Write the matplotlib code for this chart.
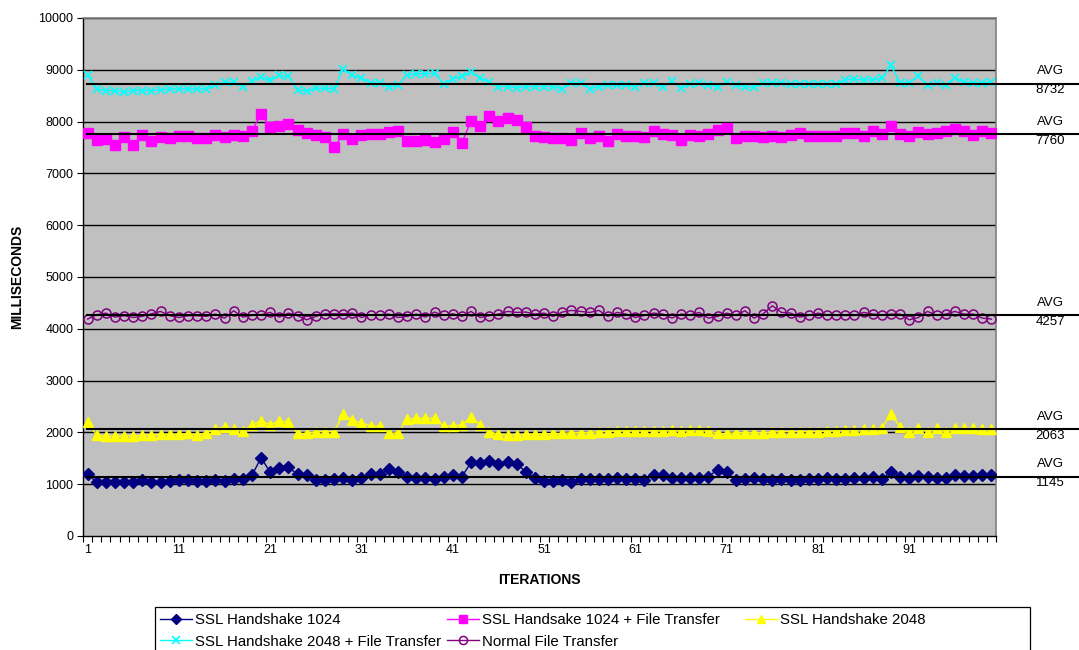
import numpy as np
import matplotlib
matplotlib.use("Agg")
import matplotlib.pyplot as plt
from matplotlib.transforms import blended_transform_factory
from matplotlib.patches import Rectangle

plt.rcParams['font.family'] = ['Liberation Sans', 'DejaVu Sans']

iterations = list(range(1, 101))

ssl_1024 = [1194, 1039, 1039, 1039, 1039, 1039, 1084, 1052, 1052, 1065,
            1077, 1077, 1065, 1071, 1084, 1071, 1097, 1097, 1168, 1510,
            1232, 1316, 1323, 1194, 1168, 1084, 1084, 1097, 1116, 1090,
            1116, 1194, 1194, 1300, 1239, 1148, 1129, 1129, 1110, 1148,
            1181, 1148, 1419, 1406, 1445, 1393, 1419, 1393, 1239, 1116,
            1071, 1058, 1077, 1052, 1097, 1097, 1097, 1097, 1116, 1110,
            1097, 1090, 1181, 1168, 1123, 1129, 1129, 1129, 1148, 1277,
            1226, 1084, 1097, 1129, 1103, 1090, 1097, 1090, 1090, 1097,
            1103, 1116, 1110, 1110, 1116, 1116, 1135, 1097, 1245, 1142,
            1129, 1155, 1142, 1123, 1129, 1168, 1161, 1161, 1187, 1168]

ssl_1024_ft = [7787, 7652, 7671, 7548, 7697, 7555, 7748, 7626, 7697, 7684,
               7716, 7723, 7690, 7690, 7748, 7697, 7742, 7716, 7813, 8155,
               7897, 7916, 7961, 7839, 7781, 7736, 7703, 7503, 7755, 7665,
               7742, 7761, 7761, 7806, 7826, 7632, 7632, 7645, 7613, 7665,
               7794, 7594, 8006, 7910, 8110, 8019, 8071, 8032, 7903, 7716,
               7703, 7690, 7684, 7652, 7774, 7690, 7729, 7632, 7761, 7729,
               7729, 7710, 7819, 7755, 7742, 7652, 7742, 7716, 7761, 7845,
               7877, 7684, 7729, 7716, 7710, 7716, 7697, 7748, 7774, 7729,
               7729, 7716, 7729, 7787, 7774, 7716, 7826, 7755, 7910, 7761,
               7729, 7800, 7755, 7781, 7813, 7852, 7826, 7735, 7813, 7781]

ssl_2048 = [2194, 1948, 1929, 1929, 1935, 1935, 1942, 1955, 1961, 1961,
            1961, 1980, 1955, 1994, 2058, 2110, 2058, 2032, 2142, 2226,
            2142, 2226, 2194, 1980, 1980, 2013, 2013, 2013, 2348, 2232,
            2187, 2123, 2123, 1980, 1994, 2252, 2271, 2271, 2271, 2123,
            2123, 2142, 2303, 2142, 2013, 1968, 1948, 1948, 1961, 1968,
            1968, 1980, 1980, 1994, 1994, 1994, 2013, 2013, 2032, 2026,
            2032, 2032, 2032, 2032, 2045, 2032, 2045, 2045, 2032, 1980,
            1980, 1994, 1994, 1994, 1994, 2006, 2013, 2013, 2013, 2013,
            2013, 2026, 2026, 2045, 2045, 2058, 2058, 2090, 2348, 2110,
            2000, 2090, 2013, 2077, 2013, 2077, 2077, 2077, 2058, 2058]

ssl_2048_ft = [8903, 8632, 8600, 8600, 8568, 8600, 8600, 8600, 8613, 8632,
               8632, 8632, 8632, 8632, 8697, 8761, 8761, 8677, 8781, 8858,
               8794, 8890, 8871, 8613, 8587, 8645, 8645, 8632, 9019, 8890,
               8845, 8748, 8748, 8665, 8697, 8903, 8923, 8923, 8936, 8729,
               8826, 8871, 8955, 8845, 8761, 8677, 8677, 8652, 8677, 8677,
               8677, 8677, 8632, 8748, 8748, 8632, 8677, 8697, 8697, 8697,
               8677, 8748, 8748, 8665, 8787, 8645, 8729, 8748, 8697, 8677,
               8761, 8697, 8677, 8665, 8748, 8748, 8748, 8735, 8735, 8735,
               8723, 8723, 8723, 8806, 8819, 8806, 8806, 8839, 9084, 8748,
               8748, 8877, 8697, 8748, 8697, 8845, 8761, 8748, 8748, 8761]

normal_ft = [4187, 4271, 4303, 4226, 4252, 4219, 4239, 4290, 4335, 4252,
             4219, 4252, 4252, 4239, 4284, 4206, 4348, 4226, 4258, 4271,
             4316, 4226, 4303, 4252, 4174, 4239, 4290, 4290, 4290, 4303,
             4219, 4271, 4271, 4284, 4219, 4239, 4284, 4226, 4323, 4258,
             4290, 4239, 4335, 4219, 4252, 4284, 4335, 4316, 4323, 4284,
             4303, 4239, 4323, 4355, 4335, 4316, 4355, 4239, 4316, 4284,
             4219, 4258, 4303, 4284, 4206, 4284, 4271, 4316, 4206, 4239,
             4303, 4258, 4348, 4206, 4290, 4445, 4316, 4303, 4226, 4258,
             4303, 4271, 4258, 4258, 4258, 4316, 4284, 4271, 4284, 4284,
             4174, 4219, 4335, 4258, 4284, 4335, 4284, 4284, 4206, 4187]

series_names = ["SSL Handshake 1024", "SSL Handsake 1024 + File Transfer",
                "SSL Handshake 2048", "SSL Handshake 2048 + File Transfer",
                "Normal File Transfer"]
avg_values = [8732, 7760, 4257, 2063, 1145]

x_tick_labels = [1, 11, 21, 31, 41, 51, 61, 71, 81, 91]
y_ticks = list(range(0, 10001, 1000))

W, H = 1079, 650
fig = plt.figure(figsize=(W / 100, H / 100), dpi=100)
L, R, T, B = 83, 996, 18, 536
ax = fig.add_axes([L / W, 1 - B / H, (R - L) / W, (B - T) / H])
ax.set_facecolor('#C0C0C0')

ax.set_xlim(0.5, 100.5)
ax.set_ylim(0, 10000)
ax.set_yticks(y_ticks)
ax.set_yticklabels([str(v) for v in y_ticks], fontsize=9)
for v in y_ticks[1:]:
    ax.axhline(v, color='black', lw=1.0, zorder=1)

ax.set_xticks(x_tick_labels)
ax.set_xticklabels([str(v) for v in x_tick_labels], fontsize=9)
ax.set_xticks(np.arange(0.5, 101, 1), minor=True)
ax.tick_params(axis='x', which='major', length=0, pad=6)
ax.tick_params(axis='x', which='minor', length=4, width=0.8, direction='out')
ax.tick_params(axis='y', which='major', length=4, width=0.8, direction='out', pad=3)

for s in ['top', 'right']:
    ax.spines[s].set_color('#808080')
    ax.spines[s].set_linewidth(1.2)
for s in ['left', 'bottom']:
    ax.spines[s].set_color('black')
    ax.spines[s].set_linewidth(1.0)

lw = 1.0
h1, = ax.plot(iterations, ssl_1024, color='#000080', marker='D', ms=6, lw=lw, zorder=5)
h2, = ax.plot(iterations, ssl_1024_ft, color='#FF00FF', marker='s', ms=6.5, lw=lw, zorder=5)
h3, = ax.plot(iterations, ssl_2048, color='#FFFF00', marker='^', ms=7, lw=lw, zorder=5)
h4, = ax.plot(iterations, ssl_2048_ft, color='#00FFFF', marker='x', ms=6, mew=1.2, lw=lw, zorder=5)
h5, = ax.plot(iterations, normal_ft, color='#800080', marker='o', ms=6.5, mfc='none', mew=1.1, lw=lw, zorder=5)

tr = blended_transform_factory(ax.transAxes, ax.transData)
x_end = (W - L) / (R - L)
x_lab = (1050 - L) / (R - L)
for v in avg_values:
    ax.plot([0.004, x_end], [v, v], color='black', lw=1.5, transform=tr, clip_on=False, zorder=6)
    ax.text(x_lab, v + 120, "AVG", transform=tr, ha='center', va='bottom', fontsize=9.5)
    ax.text(x_lab, v - 15, str(v), transform=tr, ha='center', va='top', fontsize=9.5)

ax.set_ylabel("MILLISECONDS", fontsize=10, fontweight='bold', labelpad=10)
ax.set_xlabel("ITERATIONS", fontsize=10, fontweight='bold', labelpad=12)

# Legend: three equal-width columns inside one frame
fig.add_artist(Rectangle((155 / W, 1 - 665 / H), (1030 - 155) / W, (665 - 607) / H,
                         transform=fig.transFigure, facecolor='white',
                         edgecolor='black', lw=0.9, zorder=0))
columns = [([h1, h4], [series_names[0], series_names[3]], 160),
           ([h2, h5], [series_names[1], series_names[4]], 447),
           ([h3], [series_names[2]], 745)]
for hs, labs, xpx in columns:
    lg = fig.legend(hs, labs, loc='upper left', bbox_to_anchor=(xpx / W, 1 - 613 / H),
                    fontsize=10.8, frameon=False, handlelength=2.1, handletextpad=0.25,
                    borderpad=0, borderaxespad=0, labelspacing=0.5, markerscale=0.9)

fig.savefig("out.png", dpi=100)
